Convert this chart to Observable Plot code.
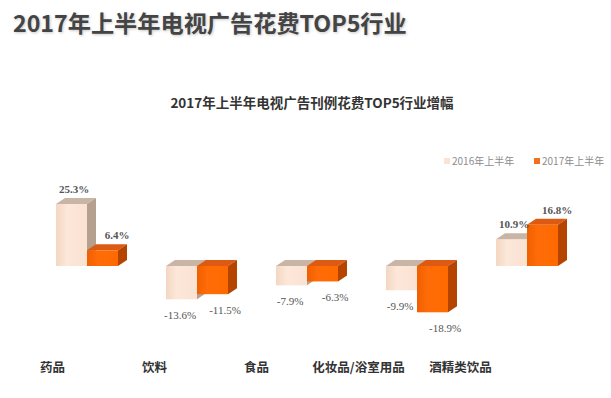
<!DOCTYPE html>
<html><head><meta charset="utf-8">
<script src="https://cdn.jsdelivr.net/npm/d3@7"></script>
<script src="https://cdn.jsdelivr.net/npm/@observablehq/plot@0.6"></script>
<style>
body{margin:0;background:#fff;}
#wrap{position:relative;width:611px;height:398px;overflow:hidden;font-family:"Noto Sans CJK SC","Noto Sans",sans-serif;background:#fff;}
#title{position:absolute;left:13px;top:5px;font-size:23.2px;line-height:34px;font-weight:700;color:#444;text-shadow:1px 1px 3px rgba(0,0,0,0.22);white-space:nowrap;}
#subtitle{position:absolute;left:0;width:624px;top:92px;text-align:center;font-size:13.5px;line-height:20px;font-weight:700;color:#333;white-space:nowrap;}
.leg{position:absolute;top:153px;font-size:10px;line-height:16px;color:#8c8c8c;white-space:nowrap;}
.sw{display:inline-block;width:6px;height:6px;margin-right:2px;vertical-align:1px;}
#main{position:absolute;left:0;top:0;}
#cats{position:absolute;left:0;top:352px;}
</style></head><body>
<div id="wrap">
  <div id="title">2017年上半年电视广告花费TOP5行业</div>
  <div id="subtitle">2017年上半年电视广告刊例花费TOP5行业增幅</div>
  <div id="legend"></div>
  <div id="main"></div>
  <div id="cats"></div>
</div>
<script>
const categories = ["药品", "饮料", "食品", "化妆品/浴室用品", "酒精类饮品"];
const seriesNames = ["2016年上半年", "2017年上半年"];
const values2016 = [25.3, -13.6, -7.9, -9.9, 10.9];
const values2017 = [6.4, -11.5, -6.3, -18.9, 16.8];

const seriesValues = [values2016, values2017];
const rows = [];
categories.forEach((cat, i) => {
  seriesNames.forEach((s, j) => rows.push({cat, series: s, j, v: seriesValues[j][i]}));
});

const palette = [
  {front: ["#f4d6c2", "#fce7d9", "#fbe2d2"], top: "#c9b5a5", side: "#b59f8e", swatch: "#fbe3d3"},
  {front: ["#f05f00", "#ff6c08", "#ff6a00"], top: "#dc5a12", side: "#b44400", swatch: "#f07020"}
];

// legend
const legend = document.getElementById("legend");
const legX = [444, 534];
seriesNames.forEach((s, j) => {
  const el = document.createElement("div");
  el.className = "leg";
  el.style.left = legX[j] + "px";
  el.innerHTML = `<span class="sw" style="background:${palette[j].swatch}"></span>${s}`;
  legend.appendChild(el);
});

const depthX = 9, depthY = 6;

function cubes(index, scales) {
  const {x, y} = scales;
  const half = x.bandwidth() / 2;
  const g = d3.create("svg:g");
  const defs = g.append("defs");
  palette.forEach((p, j) => {
    const lg = defs.append("linearGradient").attr("id", "fg" + j).attr("x1", 0).attr("x2", 1).attr("y1", 0).attr("y2", 0);
    lg.append("stop").attr("offset", "0%").attr("stop-color", p.front[0]);
    lg.append("stop").attr("offset", "35%").attr("stop-color", p.front[1]);
    lg.append("stop").attr("offset", "100%").attr("stop-color", p.front[2]);
  });
  rows.forEach(d => {
    const p = palette[d.j];
    const x0 = x(d.cat) + d.j * half, x1 = x0 + half;
    const yT = y(Math.max(d.v, 0)), yB = y(Math.min(d.v, 0));
    g.append("rect").attr("x", x0).attr("y", yT).attr("width", half).attr("height", yB - yT).attr("fill", `url(#fg${d.j})`);
    g.append("polygon").attr("points", [[x0, yT], [x1, yT], [x1 + depthX, yT - depthY], [x0 + depthX, yT - depthY]].map(q => q.join(",")).join(" ")).attr("fill", p.top);
    g.append("polygon").attr("points", [[x1, yT], [x1 + depthX, yT - depthY], [x1 + depthX, yB - depthY], [x1, yB]].map(q => q.join(",")).join(" ")).attr("fill", p.side);
  });
  return g.node();
}

const fmt = d => d.v.toFixed(1) + "%";
const labelFont = {fontFamily: "Liberation Serif, serif", fontSize: 11, fill: "#555"};
const half0 = 15.5;
const labelMarks = [
  Plot.text(rows, {filter: d => d.j === 0 && d.v >= 0, x: "cat", y: "v", text: fmt, dx: -half0 + 2, dy: -15, fontWeight: "bold", ...labelFont}),
  Plot.text(rows, {filter: d => d.j === 1 && d.v >= 0, x: "cat", y: "v", text: fmt, dx: half0 + 14, dy: -15, fontWeight: "bold", ...labelFont}),
  Plot.text(rows, {filter: d => d.j === 0 && d.v < 0, x: "cat", y: "v", text: fmt, dx: -half0 - 2, dy: 16, ...labelFont}),
  Plot.text(rows, {filter: d => d.j === 1 && d.v < 0, x: "cat", y: "v", text: fmt, dx: half0 + 12, dy: 16, ...labelFont})
];

const main = Plot.plot({
  width: 611,
  height: 345,
  margin: 0,
  style: {background: "transparent", overflow: "visible"},
  x: {type: "band", domain: categories, range: [32, 582], paddingInner: 0.436, paddingOuter: 0.218, axis: null},
  y: {domain: [-20, 30], range: [315, 192.5], axis: null},
  marks: [
    Plot.barY(rows, {x: "cat", y: "v", fill: "none"}),
    cubes,
    ...labelMarks
  ]
});
document.getElementById("main").appendChild(main);

const cats = Plot.plot({
  width: 611,
  height: 30,
  margin: 0,
  style: {background: "transparent", fontFamily: "Noto Sans CJK SC, sans-serif"},
  x: {type: "band", domain: categories, range: [0, 511.5], padding: 0, axis: null},
  marks: [
    Plot.text(categories, {x: d => d, text: d => d, frameAnchor: "middle", fontSize: 12.5, fontWeight: "bold", fill: "#333"})
  ]
});
document.getElementById("cats").appendChild(cats);
</script>
</body></html>
